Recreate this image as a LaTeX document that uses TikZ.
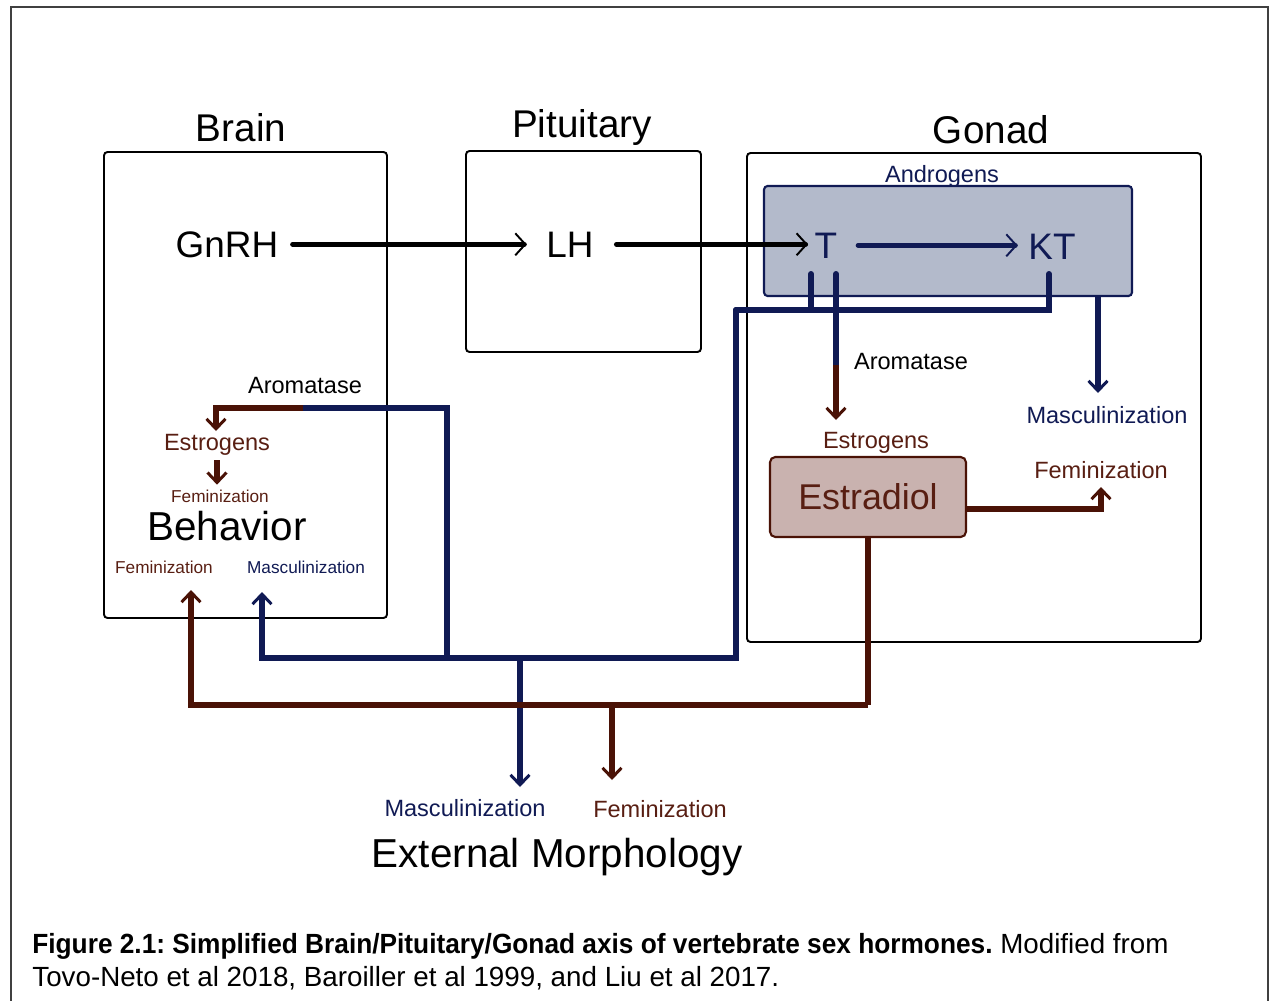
\documentclass[tikz,border=0pt]{standalone}
\usepackage{graphicx}
\usepackage{fontspec}
\setmainfont{Liberation Sans}
\usetikzlibrary{arrows.meta,calc}

\definecolor{navy}{RGB}{16,26,84}
\definecolor{rust}{RGB}{74,18,6}
\definecolor{rusttext}{RGB}{88,30,18}
\definecolor{androfill}{RGB}{179,186,203}
\definecolor{estrfill}{RGB}{201,178,175}

\tikzset{
  panel/.style={draw, line width=1.1pt, rounded corners=2pt},
  androbox/.style={draw=navy, fill=androfill, line width=1.2pt, rounded corners=2pt,
    inner sep=0pt, minimum width=7.36cm, minimum height=2.2cm},
  estrbox/.style={draw=rust, fill=estrfill, text=rusttext, line width=1.2pt, rounded corners=3pt,
    inner sep=0pt, minimum width=3.92cm, minimum height=1.6cm, font=\fontsize{20.4}{24}\selectfont},
  headline/.style={anchor=base, inner sep=0pt, font=\fontsize{22}{26}\selectfont},
  hormone/.style={anchor=base, inner sep=0pt, font=\fontsize{21}{25}\selectfont},
  biglbl/.style={anchor=base, inner sep=0pt, font=\fontsize{23}{27}\selectfont},
  lbl/.style={anchor=base, inner sep=0pt, font=\fontsize{13.4}{16}\selectfont},
  smalllbl/.style={anchor=base, inner sep=0pt, font=\fontsize{9.8}{12}\selectfont},
  axisarrow/.style={line width=2.8pt, line cap=round,
    -{Straight Barb[length=0.2cm,width=0.44cm,line width=1.1pt]}},
  mline/.style={draw=navy, line width=3.4pt},
  fline/.style={draw=rust, line width=3.4pt},
  barb/.style={-{Straight Barb[length=0.2cm,width=0.38cm,line width=1.7pt]}}
}

\begin{document}
\frenchspacing
\begin{tikzpicture}[x=0.02cm, y=-0.02cm]
  \useasboundingbox (0,0) rectangle (1269,1001);

  % Draw the outer frame
  \draw[line width=1.1pt, black!75] (11,1001) -- (11,7) -- (1268,7) -- (1268,1001);

  % Draw the three panels
  \draw[panel] (104,152) rectangle (387,618);
  \draw[panel] (466,151) rectangle (701,352);
  \draw[panel] (747,153) rectangle (1201,642);

  % Draw the androgen and estradiol boxes
  \node[androbox] (andbox) at (948,241) {};
  \node[estrbox] (estradiol) at (868,497) {Estradiol};

  % Panel titles
  \node[headline] (brain) at (241,141) {Brain};
  \node[headline] (pituitary) at (582,137) {Pituitary};
  \node[headline] (gonad) at (991,143) {Gonad};

  % Hormones of the axis
  \node[hormone] (gnrh) at (227,257) {GnRH};
  \node[hormone] (lh) at (570,257) {LH};
  \node[hormone, text=navy] (t) at (826,258) {T};
  \node[hormone, text=navy] (kt) at (1052,259) {KT};

  % Labels
  \node[lbl, text=navy] (androgens) at (942,182) {Androgens};
  \node[lbl] (aromg) at (911,369) {Aromatase};
  \node[lbl, text=navy] (mascg) at (1107,423) {Masculinization};
  \node[lbl, text=rusttext] (estrg) at (876,448) {Estrogens};
  \node[lbl, text=rusttext] (femg) at (1101,478) {Feminization};
  \node[lbl] (aromb) at (305,393) {Aromatase};
  \node[lbl, text=rusttext] (estrb) at (217,450) {Estrogens};
  \node[smalllbl, text=rusttext] (femsm) at (220,502) {Feminization};
  \node[biglbl] (behavior) at (227,540) {Behavior};
  \node[smalllbl, text=rusttext] (femb) at (164,573) {Feminization};
  \node[smalllbl, text=navy] (mascb) at (306,573) {Masculinization};
  \node[lbl, text=navy] (mascx) at (465,816) {Masculinization};
  \node[lbl, text=rusttext] (femx) at (660,817) {Feminization};
  \node[biglbl] (morph) at (557,867) {External Morphology};

  % Junctions and arrow ends
  \coordinate (tl) at (811,274);
  \coordinate (tr) at (836,274);
  \coordinate (kb) at (1049,274);
  \coordinate (gj) at (736,310);
  \coordinate (gc) at (836,365);
  \coordinate (ge) at (836,420);
  \coordinate (gm) at (1098,393);
  \coordinate (gf) at (1101,487);
  \coordinate (bj) at (447,658);
  \coordinate (mj) at (520,658);
  \coordinate (ac) at (447,408);
  \coordinate (aj) at (303,408);
  \coordinate (be) at (216,431);
  \coordinate (bm) at (262,592);
  \coordinate (bf) at (191,590);
  \coordinate (xm) at (520,787);
  \coordinate (br) at (868,705);
  \coordinate (fj) at (612,705);
  \coordinate (xf) at (612,780);

  % Draw the axis arrows
  \draw[axisarrow, shorten <=0.28cm, shorten >=0.39cm] (gnrh.east) -- (gnrh.east -| lh.west);
  \draw[axisarrow, shorten <=0.45cm, shorten >=0.13cm] (lh.east) -- (lh.east -| t.west);
  \draw[axisarrow, draw=navy, shorten <=0.41cm, shorten >=0.21cm] (t.east) -- (t.east -| kt.west);

  % Draw the androgen paths
  \draw[mline, line cap=round] (tl) |- (gj);
  \draw[mline, line cap=round] (kb) |- (gj);
  \draw[mline, barb] (gj) -- (gj |- bj) -| (bm);
  \draw[mline] (bj) -- (ac) -- (aj);
  \draw[mline, barb] (mj) -- (xm);
  \draw[mline, barb] (andbox.south -| gm) -- (gm);
  \draw[mline, line cap=round] (tr) -- (gc);

  % Draw the estrogen paths
  \draw[fline, barb] (gc) -- (ge);
  \draw[fline, barb] (aj) -| (be);
  \draw[fline, barb, shorten <=0.1cm, shorten >=0.09cm] (estrb.south) -- (estrb.south |- femsm.north);
  \draw[fline, barb] ($(estradiol.east)+(0,12)$) -| (gf);
  \draw[fline] (estradiol.south) -- (br);
  \draw[fline, barb] (br) -| (bf);
  \draw[fline, barb] (fj) -- (xf);

  % Caption
  \node[anchor=base west, inner sep=0pt, font=\fontsize{15.8}{19}\selectfont] (caption1) at (32,953)
    {\scalebox{0.946}[1]{\bfseries Figure 2.1: Simplified Brain/Pituitary/Gonad axis of vertebrate sex hormones.} Modified from};
  \node[anchor=base west, inner sep=0pt, font=\fontsize{15.8}{19}\selectfont] (caption2) at (32,986)
    {Tovo-Neto et al 2018, Baroiller et al 1999, and Liu et al 2017.};
\end{tikzpicture}
\end{document}
